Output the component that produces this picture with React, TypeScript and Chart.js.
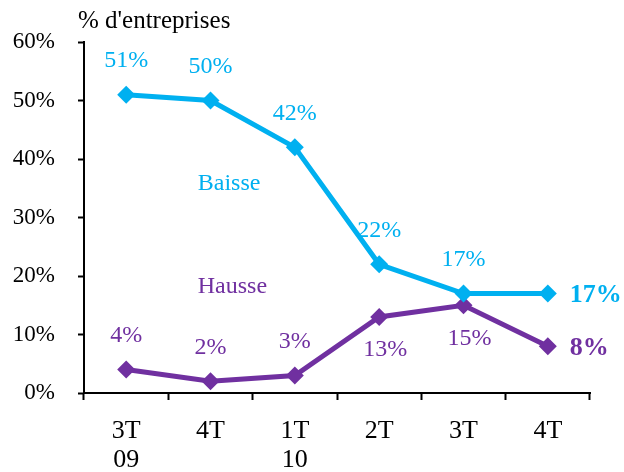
import React, { useEffect, useRef } from "react";
import { Chart, registerables } from "chart.js";

Chart.register(...registerables);

const categories: string[][] = [["3T", "09"], ["4T"], ["1T", "10"], ["2T"], ["3T"], ["4T"]];
const baisse: number[] = [51, 50, 42, 22, 17, 17];
const hausse: number[] = [4, 2, 3, 13, 15, 8];
const yTicks: number[] = [0, 10, 20, 30, 40, 50, 60];
const seriesNames: string[] = ["Baisse", "Hausse"];
const axisTitle = "% d'entreprises";

const BLUE = "#00B0F0";
const PURPLE = "#7030A0";
const FONT = "'Liberation Serif', 'Times New Roman', serif";

// label placement: 'a' above, 'b' below, 'r' right (bold)
const baissePlacement = ["a", "a", "a", "a", "a", "r"];
const haussePlacement = ["a", "a", "a", "b", "b", "r"];

const labelPlugin = {
  id: "customLabels",
  afterDatasetsDraw(chart: any) {
    const ctx = chart.ctx;
    const xs = chart.scales.x;
    const ys = chart.scales.y;
    ctx.save();
    const placements = [baissePlacement, haussePlacement];
    const colors = [BLUE, PURPLE];
    chart.data.datasets.forEach((ds: any, di: number) => {
      const meta = chart.getDatasetMeta(di);
      meta.data.forEach((pt: any, i: number) => {
        const v = ds.data[i];
        const p = placements[di][i];
        ctx.fillStyle = colors[di];
        ctx.textBaseline = "middle";
        if (p === "r") {
          ctx.font = `bold 26px ${FONT}`;
          ctx.textAlign = "left";
          ctx.fillText(v + "%", pt.x + 22, pt.y + 2);
        } else {
          ctx.font = `24px ${FONT}`;
          ctx.textAlign = "center";
          const dy = p === "a" ? -34 : 33;
          const dx = p === "b" ? 6 : 0;
          ctx.fillText(v + "%", pt.x + dx, pt.y + dy);
        }
      });
    });
    // series names
    ctx.font = `24px ${FONT}`;
    ctx.textAlign = "center";
    ctx.textBaseline = "middle";
    ctx.fillStyle = BLUE;
    ctx.fillText(seriesNames[0], xs.getPixelForValue(1.22), ys.getPixelForValue(35.8));
    ctx.fillStyle = PURPLE;
    ctx.fillText(seriesNames[1], xs.getPixelForValue(1.26), ys.getPixelForValue(18.2));
    // axis title
    ctx.font = `25px ${FONT}`;
    ctx.fillStyle = "#000";
    ctx.textAlign = "left";
    ctx.fillText(axisTitle, 78, 21);
    ctx.restore();
  },
};

export default function App() {
  const ref = useRef<HTMLCanvasElement | null>(null);
  useEffect(() => {
    document.body.style.margin = "0";
    const canvas = ref.current!;
    const chart = new Chart(canvas, {
      type: "line",
      data: {
        labels: categories as any,
        datasets: [
          {
            label: seriesNames[0],
            data: baisse,
            borderColor: BLUE,
            backgroundColor: BLUE,
            borderWidth: 5,
            pointStyle: "rectRot",
            pointRadius: 9,
            pointBorderWidth: 0,
            tension: 0,
          },
          {
            label: seriesNames[1],
            data: hausse,
            borderColor: PURPLE,
            backgroundColor: PURPLE,
            borderWidth: 5,
            pointStyle: "rectRot",
            pointRadius: 9,
            pointBorderWidth: 0,
            tension: 0,
          },
        ],
      },
      options: {
        animation: false,
        responsive: false,
        maintainAspectRatio: false,
        layout: { padding: { left: 0, right: 34, top: 42, bottom: 0 } },
        plugins: { legend: { display: false }, tooltip: { enabled: false }, title: { display: false } },
        scales: {
          x: {
            type: "category",
            offset: true,
            grid: {
              display: true,
              drawOnChartArea: false,
              drawTicks: true,
              tickLength: 7,
              tickWidth: 2,
              tickColor: "#000",
              offset: true,
            },
            border: { display: true, color: "#000", width: 2 },
            ticks: {
              color: "#000",
              font: { family: FONT, size: 26, lineHeight: 1.1 },
              padding: 17,
              maxRotation: 0,
              autoSkip: false,
            },
            afterFit: (s: any) => {
              s.height = 79;
            },
          },
          y: {
            min: yTicks[0],
            max: yTicks[yTicks.length - 1],
            afterBuildTicks: (s: any) => {
              s.ticks = yTicks.map((v) => ({ value: v }));
            },
            grid: {
              display: true,
              drawOnChartArea: false,
              drawTicks: true,
              tickLength: 6,
              tickWidth: 2,
              tickColor: "#000",
            },
            border: { display: true, color: "#000", width: 2 },
            ticks: {
              color: "#000",
              font: { family: FONT, size: 23 },
              padding: 23,
              callback: (v: any) => v + "%",
            },
            afterFit: (s: any) => {
              s.width = 84;
            },
          },
        },
      },
      plugins: [labelPlugin],
    });
    return () => chart.destroy();
  }, []);
  return (
    <div style={{ width: 624, height: 472, background: "#fff" }}>
      <canvas ref={ref} width={624} height={472} style={{ display: "block" }} />
    </div>
  );
}
